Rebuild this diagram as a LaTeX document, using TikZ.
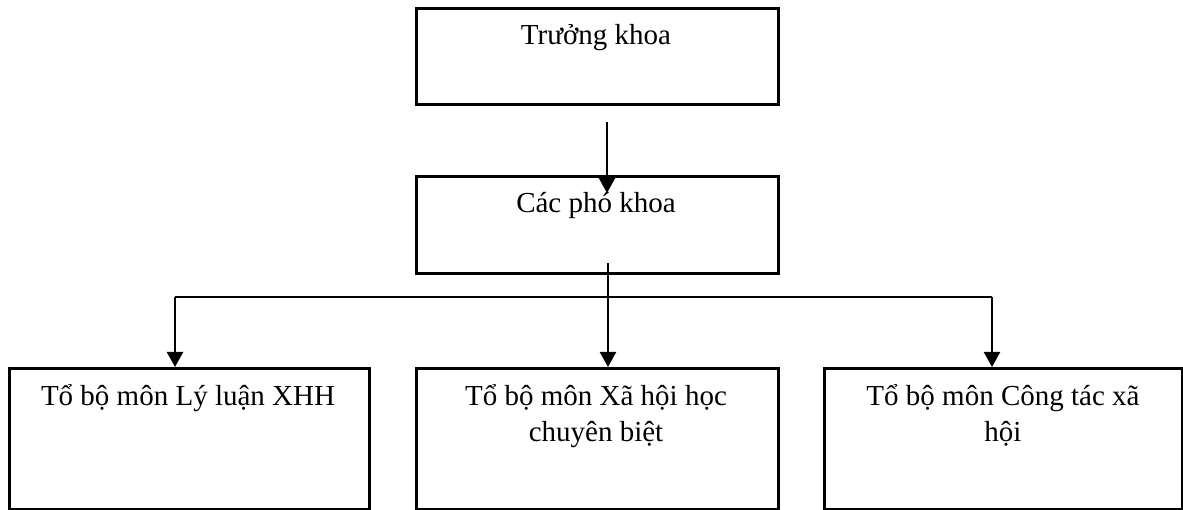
\documentclass[tikz,border=0pt]{standalone}
\usepackage{fontspec}
\setmainfont{Liberation Serif}
\usetikzlibrary{arrows.meta}
\begin{document}
\begin{tikzpicture}[x=1pt,y=-1pt,
  boxst/.style={draw=black, line width=2.7pt, rectangle, inner sep=0pt, anchor=north west},
  lbl/.style={font=\fontsize{29}{36}\selectfont, align=center, inner sep=0pt, anchor=base},
  arr/.style={line width=2.3pt, -{Triangle[width=16pt,length=15pt]}},
  thinln/.style={line width=1.4pt}]
\useasboundingbox (0,0) rectangle (1183,510);
% boxes
\node[boxst, minimum width=362pt, minimum height=96pt] (tk) at (415,7) {};
\node[boxst, minimum width=362pt, minimum height=97pt] (pk) at (415,175) {};
\node[boxst, minimum width=360pt, minimum height=141pt] (b1) at (8,367) {};
\node[boxst, minimum width=362pt, minimum height=141pt] (b2) at (415,367) {};
\node[boxst, minimum width=358pt, minimum height=141pt] (b3) at (823,367) {};
% labels (base anchor of a multi-line node is the last line's baseline)
\node[lbl] (tkt) at (596,45) {Trưởng khoa};
\node[lbl] (pkt) at (596,213) {Các phó khoa};
\node[lbl] (b1t) at (188,405) {Tổ bộ môn Lý luận XHH};
\node[lbl] (b2t) at (596,441) {Tổ bộ môn Xã hội học\\chuyên biệt};
\node[lbl] (b3t) at (1003,441) {Tổ bộ môn Công tác xã\\hội};
% connector points
\coordinate (a1s) at (607,122);
\coordinate (a1e) at (607,193);
\coordinate (ps) at (608,263);
\coordinate (hl) at (175,297);
\coordinate (hm) at (608,297);
\coordinate (hr) at (992,297);
% connectors
\draw[arr] (a1s) -- (a1e);
\draw[thinln] (ps) -- (hm);
\draw[thinln] (hl) -- (hr);
\draw[arr] (hl) -- (hl |- b1.north);
\draw[arr] (hm) -- (hm |- b2.north);
\draw[arr] (hr) -- (hr |- b3.north);
\end{tikzpicture}
\end{document}
